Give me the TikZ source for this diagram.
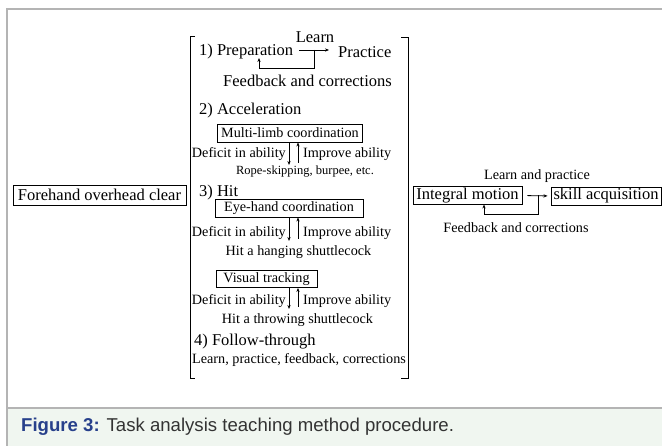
\documentclass[tikz,border=0pt]{standalone}
\usepackage{fontspec}
\setmainfont{Liberation Serif}
\newfontfamily\capfont{Liberation Sans}
\usetikzlibrary{arrows.meta,positioning}
\definecolor{framegray}{HTML}{B4B4B4}
\definecolor{capbg}{HTML}{F0F6F0}
\definecolor{figblue}{HTML}{27408B}
\definecolor{captext}{HTML}{333333}
\begin{document}
\begin{tikzpicture}[x=1pt, y=-1pt,
    big/.style={font=\fontsize{16.5}{18}\selectfont, inner sep=1pt},
    mid/.style={font=\fontsize{14.2}{16}\selectfont, inner sep=1pt},
    small/.style={font=\fontsize{12.5}{14}\selectfont, inner sep=1pt},
    box/.style={draw, line width=0.9pt, minimum height=18pt, inner xsep=3pt, inner ysep=1pt},
    arrow/.style={->, >={Stealth[length=4pt, width=3.2pt]}, line width=0.8pt},
    frameline/.style={draw=framegray, line width=1.4pt}]
\useasboundingbox (0,0) rectangle (662,446);
% Frame and caption
\fill[capbg] (7,408) rectangle (662,446);
\draw[frameline] (7,446) -- (7,9) -- (662,9);
\draw[frameline] (7,408) -- (662,408);
\node[anchor=west, inner sep=0pt, font=\capfont\fontsize{18.6}{20}\selectfont] (caption) at (21,427)
  {\textcolor{figblue}{\bfseries Figure 3:} \textcolor{captext}{Task analysis teaching method procedure.}};

% Task
\node[box, big, minimum width=173pt, minimum height=20pt] (forehand) at (99.5,195) {Forehand overhead clear};

% Bracket
\draw[line width=0.9pt] (195,36) -- (190,36) -- (190,378) -- (195,378);
\draw[line width=0.9pt] (401,37) -- (408,37) -- (408,378) -- (401,378);

% 1) Preparation
\node[big] (learn) at (315,37) {Learn};
\node[big, anchor=west] (prep) at (198,52) {1) Preparation};
\node[big, anchor=west] (practice) at (337,52) {Practice};
\node[big] (feedback) at (307.5,81) {Feedback and corrections};
\coordinate (fbturn) at (314,68);
\coordinate (fbend) at (259,58);
\draw[arrow, shorten <=5pt, shorten >=8pt] ([yshift=2pt]prep.east) -- ([yshift=2pt]practice.west);
\draw[arrow] ([yshift=2pt]prep.east -| fbturn) -- (fbturn) -| (fbend);

% 2) Acceleration
\node[big, anchor=west] (accel) at (198,111) {2) Acceleration};
\node[box, mid, minimum width=145pt] (multi) at (290,133) {Multi-limb coordination};
\coordinate (down1) at (289,165);
\coordinate (up1) at (298,163);
\draw[arrow] (multi.south -| down1) -- (down1);
\draw[arrow] (up1) -- (multi.south -| up1);
\node[mid, anchor=east] (deficit1) at (287,154) {Deficit in ability};
\node[mid, anchor=west] (improve1) at (302,154) {Improve ability};
\node[small] (rope) at (305,172) {Rope-skipping, burpee, etc.};

% 3) Hit
\node[big, anchor=west] (hit) at (198,193) {3) Hit};
\node[box, mid, minimum width=148pt] (eyehand) at (289,208) {Eye-hand coordination};
\coordinate (down2) at (289,241);
\coordinate (up2) at (298,239);
\draw[arrow] (eyehand.south -| down2) -- (down2);
\draw[arrow] (up2) -- (eyehand.south -| up2);
\node[mid, anchor=east] (deficit2) at (287,233) {Deficit in ability};
\node[mid, anchor=west] (improve2) at (302,233) {Improve ability};
\node[mid] (hanging) at (298.5,252) {Hit a hanging shuttlecock};

\node[box, mid, minimum width=101pt, minimum height=17pt] (visual) at (266.5,279) {Visual tracking};
\coordinate (down3) at (289,309);
\coordinate (up3) at (298,307);
\draw[arrow] (visual.south -| down3) -- (down3);
\draw[arrow] (up3) -- (visual.south -| up3);
\node[mid, anchor=east] (deficit3) at (287,301) {Deficit in ability};
\node[mid, anchor=west] (improve3) at (302,301) {Improve ability};
\node[mid] (throwing) at (297.5,320) {Hit a throwing shuttlecock};

% 4) Follow-through
\node[big, anchor=west] (follow) at (193,342) {4) Follow-through};
\node[mid, anchor=west] (learnall) at (191,360) {Learn, practice, feedback, corrections};

% Integral motion
\node[box, big, minimum width=109pt] (integral) at (467.5,195.5) {Integral motion};
\node[box, big, minimum width=110pt] (skill) at (606,196) {skill acquisition};
\node[mid] (learnpractice) at (537,176) {Learn and practice};
\node[mid] (feedback2) at (516,228) {Feedback and corrections};
\coordinate (fbturn2) at (538,214);
\coordinate (fbend2) at (484,204.5);
\draw[arrow, shorten <=5pt, shorten >=3pt] (integral.east) -- (skill.west);
\draw[arrow] (integral.east -| fbturn2) -- (fbturn2) -| (fbend2);
\end{tikzpicture}
\end{document}
